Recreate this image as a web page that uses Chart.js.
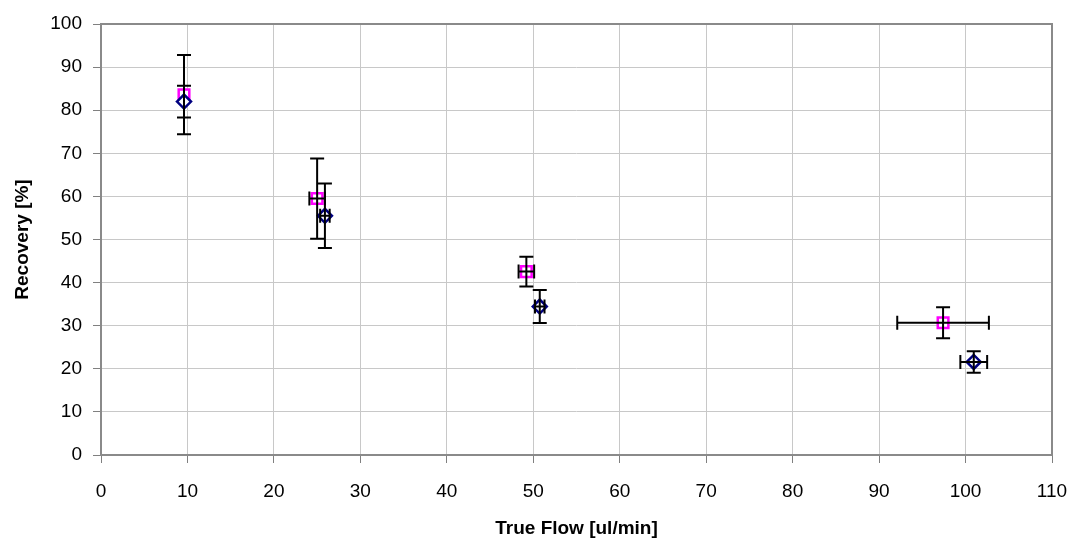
<!DOCTYPE html>
<html>
<head>
<meta charset="utf-8">
<script src="https://cdn.jsdelivr.net/npm/chart.js@4/dist/chart.umd.min.js"></script>
<style>
  body { margin: 0; background: #fff; }
  #wrap { width: 1075px; height: 541px; }
</style>
</head>
<body>
<div id="wrap"><canvas id="chart" width="1075" height="541"></canvas></div>
<script>
const blueX = [9.6, 25.9, 50.75, 100.95];
const blueY = [82.0, 55.5, 34.45, 21.6];
const blueXErr = [0, 0.55, 0.55, 1.55];
const blueYErr = [3.7, 7.5, 3.85, 2.5];

const pinkX = [9.6, 25.0, 49.2, 97.4];
const pinkY = [83.6, 59.5, 42.55, 30.7];
const pinkXErr = [0, 0.9, 0.9, 5.3];
const pinkYErr = [9.2, 9.3, 3.45, 3.6];

const xTicks = [0, 10, 20, 30, 40, 50, 60, 70, 80, 90, 100, 110];
const yTicks = [0, 10, 20, 30, 40, 50, 60, 70, 80, 90, 100];

function toPoints(xs, ys) {
  return xs.map((x, i) => ({ x: x, y: ys[i] }));
}

// error bars drawn over the markers, like the original spreadsheet chart
const errorBars = {
  id: "errorBars",
  afterDatasetsDraw(chart) {
    const ctx = chart.ctx;
    const xs = chart.scales.x;
    const ys = chart.scales.y;
    const cap = 7;
    ctx.save();
    ctx.strokeStyle = "#000";
    ctx.lineWidth = 2;
    chart.data.datasets.forEach((ds) => {
      ds.data.forEach((p, i) => {
        const px = xs.getPixelForValue(p.x);
        const py = ys.getPixelForValue(p.y);
        const ey = ds.yErr[i];
        const ex = ds.xErr[i];
        ctx.beginPath();
        if (ey) {
          const top = ys.getPixelForValue(p.y + ey);
          const bot = ys.getPixelForValue(p.y - ey);
          ctx.moveTo(px, top); ctx.lineTo(px, bot);
          ctx.moveTo(px - cap, top); ctx.lineTo(px + cap, top);
          ctx.moveTo(px - cap, bot); ctx.lineTo(px + cap, bot);
        }
        if (ex) {
          const l = xs.getPixelForValue(p.x - ex);
          const r = xs.getPixelForValue(p.x + ex);
          ctx.moveTo(l, py); ctx.lineTo(r, py);
          ctx.moveTo(l, py - cap); ctx.lineTo(l, py + cap);
          ctx.moveTo(r, py - cap); ctx.lineTo(r, py + cap);
        }
        ctx.stroke();
      });
    });
    ctx.restore();
  },
};

// grey frame round the plot area
const plotFrame = {
  id: "plotFrame",
  beforeDatasetsDraw(chart) {
    const a = chart.chartArea;
    const ctx = chart.ctx;
    ctx.save();
    ctx.strokeStyle = "#8a8a8a";
    ctx.lineWidth = 2;
    ctx.strokeRect(a.left, a.top, a.right - a.left, a.bottom - a.top);
    ctx.restore();
  },
};

new Chart(document.getElementById("chart"), {
  type: "scatter",
  data: {
    datasets: [
      {
        label: "A",
        data: toPoints(blueX, blueY),
        xErr: blueXErr,
        yErr: blueYErr,
        pointStyle: "rectRot",
        pointRadius: 7,
        borderColor: "#000080",
        backgroundColor: "#ffffff",
        borderWidth: 2.5,
      },
      {
        label: "B",
        data: toPoints(pinkX, pinkY),
        xErr: pinkXErr,
        yErr: pinkYErr,
        pointStyle: "rect",
        pointRadius: 7.5,
        borderColor: "#ff00ff",
        backgroundColor: "#ffffff",
        borderWidth: 2.5,
      },
    ],
  },
  options: {
    responsive: false,
    animation: false,
    layout: { padding: { top: 24, right: 23, left: 0, bottom: 0 } },
    plugins: {
      legend: { display: false },
      tooltip: { enabled: false },
    },
    scales: {
      x: {
        type: "linear",
        min: 0,
        max: 110,
        afterBuildTicks: (s) => { s.ticks = xTicks.map((v) => ({ value: v })); },
        afterFit: (s) => { s.height = 86; s.paddingLeft = 0; s.paddingRight = 0; },
        grid: { color: "#c8c8c8", tickColor: "#808080", tickLength: 8, lineWidth: 1 },
        border: { display: false },
        ticks: {
          color: "#000",
          padding: 17,
          maxRotation: 0,
          font: { family: "Liberation Sans, Arial, sans-serif", size: 19 },
        },
        title: {
          display: true,
          text: "True Flow [ul/min]",
          color: "#000",
          padding: { top: 0, bottom: 1 },
          font: { family: "Liberation Sans, Arial, sans-serif", size: 19, weight: "bold" },
        },
      },
      y: {
        type: "linear",
        min: 0,
        max: 100,
        afterBuildTicks: (s) => { s.ticks = yTicks.map((v) => ({ value: v })); },
        afterFit: (s) => { s.width = 101; s.paddingTop = 0; s.paddingBottom = 0; },
        grid: { color: "#c8c8c8", tickColor: "#808080", tickLength: 8, lineWidth: 1 },
        border: { display: false },
        ticks: {
          color: "#000",
          padding: 11,
          font: { family: "Liberation Sans, Arial, sans-serif", size: 19 },
        },
        title: {
          display: true,
          text: "Recovery [%]",
          color: "#000",
          padding: { top: 11, bottom: 0 },
          font: { family: "Liberation Sans, Arial, sans-serif", size: 19, weight: "bold" },
        },
      },
    },
  },
  plugins: [plotFrame, errorBars],
});
</script>
</body>
</html>
